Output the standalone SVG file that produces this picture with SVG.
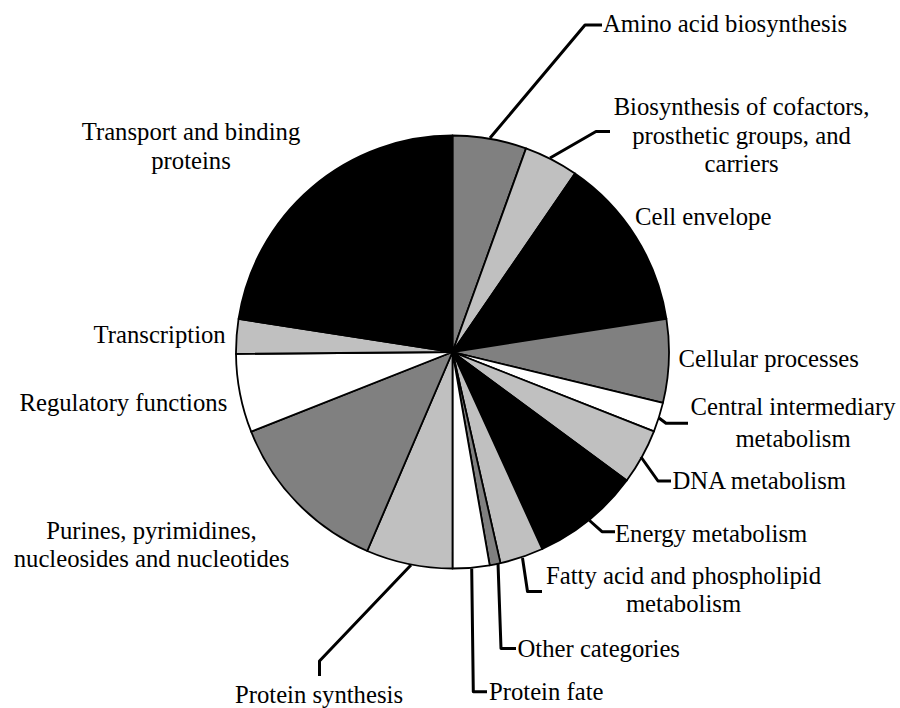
<svg xmlns="http://www.w3.org/2000/svg" width="900" height="708" viewBox="0 0 900 708">
<style>
.s{stroke:#000;stroke-width:1.8;stroke-linejoin:round}
.k{fill:#000}.g{fill:#808080}.l{fill:#c0c0c0}.w{fill:#fff}
.ld{fill:none;stroke:#000;stroke-width:3;stroke-linejoin:round}
text{font-family:"Liberation Serif","Times New Roman",serif;font-size:24.7px;fill:#000}
.m{text-anchor:middle}.e{text-anchor:end}
</style>
<rect width="900" height="708" fill="#fff"/>
<g id="slices">
<g id="amino"><path class="s g" d="M452.5 352 L452.5 135.5 A216.5 216.5 0 0 1 526.02 148.36 Z"/></g>
<g id="cofactors"><path class="s l" d="M452.5 352 L526.02 148.36 A216.5 216.5 0 0 1 575 173.5 Z"/></g>
<g id="envelope"><path class="s k" d="M452.5 352 L575 173.5 A216.5 216.5 0 0 1 666.43 318.77 Z"/></g>
<g id="cellular"><path class="s g" d="M452.5 352 L666.43 318.77 A216.5 216.5 0 0 1 662.93 402.91 Z"/></g>
<g id="central"><path class="s w" d="M452.5 352 L662.93 402.91 A216.5 216.5 0 0 1 653.94 431.35 Z"/></g>
<g id="dna"><path class="s l" d="M452.5 352 L653.94 431.35 A216.5 216.5 0 0 1 626.72 480.53 Z"/></g>
<g id="energy"><path class="s k" d="M452.5 352 L626.72 480.53 A216.5 216.5 0 0 1 542.28 549.01 Z"/></g>
<g id="fatty"><path class="s l" d="M452.5 352 L542.28 549.01 A216.5 216.5 0 0 1 500.47 563.12 Z"/></g>
<g id="other"><path class="s g" d="M452.5 352 L500.47 563.12 A216.5 216.5 0 0 1 489.72 565.28 Z"/></g>
<g id="fate"><path class="s w" d="M452.5 352 L489.72 565.28 A216.5 216.5 0 0 1 452.5 568.5 Z"/></g>
<g id="synthesis"><path class="s l" d="M452.5 352 L452.5 568.5 A216.5 216.5 0 0 1 367.21 550.99 Z"/></g>
<g id="purines"><path class="s g" d="M452.5 352 L367.21 550.99 A216.5 216.5 0 0 1 251.2 431.7 Z"/></g>
<g id="regulatory"><path class="s w" d="M452.5 352 L251.2 431.7 A216.5 216.5 0 0 1 236.01 353.89 Z"/></g>
<g id="transcription"><path class="s l" d="M452.5 352 L236.01 353.89 A216.5 216.5 0 0 1 238.55 318.88 Z"/></g>
<g id="transport"><path class="s k" d="M452.5 352 L238.55 318.88 A216.5 216.5 0 0 1 452.5 135.5 Z"/></g>
</g>
<g id="connectors">
<polyline class="ld" points="490,138 585,25 602,25"/>
<polyline class="ld" points="550,158 596,131.5 610,131.5"/>
<polyline class="ld" points="659,418 666,423.3 688,423.3"/>
<polyline class="ld" points="641,457 658,481 671,481"/>
<polyline class="ld" points="589.5,520.5 602,531.7 615,531.7"/>
<polyline class="ld" points="522.5,558 527.5,591.5 542,591.5"/>
<polyline class="ld" points="498,563 501,648.5 516,648.5"/>
<polyline class="ld" points="471.7,568.5 473.3,691.7 487,691.7"/>
<polyline class="ld" points="411,565 319.5,661 319.5,676"/>
</g>
<g id="labels">
<text x="603" y="31.5">Amino acid biosynthesis</text>
<text class="m" x="741.5" y="115">Biosynthesis of cofactors,</text>
<text class="m" x="741.5" y="143.5">prosthetic groups, and</text>
<text class="m" x="741.5" y="172">carriers</text>
<text x="635" y="224.5">Cell envelope</text>
<text x="678.5" y="366.5">Cellular processes</text>
<text class="m" x="793" y="415">Central intermediary</text>
<text class="m" x="793" y="446.5">metabolism</text>
<text x="672.5" y="489">DNA metabolism</text>
<text x="615" y="542">Energy metabolism</text>
<text class="m" x="683.5" y="583.5">Fatty acid and phospholipid</text>
<text class="m" x="683.5" y="612">metabolism</text>
<text x="517.5" y="656.5">Other categories</text>
<text x="489" y="700">Protein fate</text>
<text class="m" x="319" y="703">Protein synthesis</text>
<text class="m" x="151.5" y="538.5">Purines, pyrimidines,</text>
<text class="m" x="151.5" y="567">nucleosides and nucleotides</text>
<text x="19.5" y="411">Regulatory functions</text>
<text class="e" x="225.7" y="342.5">Transcription</text>
<text class="m" x="191" y="140">Transport and binding</text>
<text class="m" x="191" y="168.5">proteins</text>
</g>
</svg>
